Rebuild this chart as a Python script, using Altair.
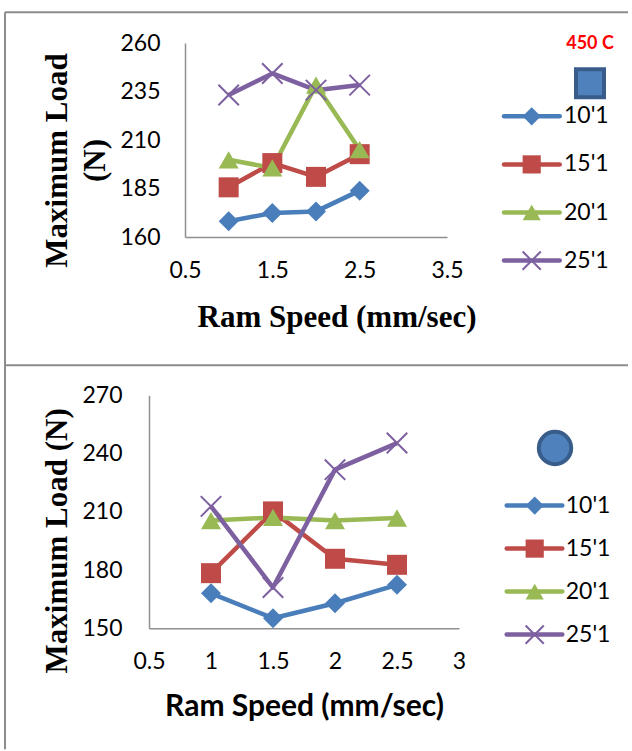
import altair as alt
import pandas as pd

# ---------------- data ----------------
series = ["10'1", "15'1", "20'1", "25'1"]
speeds = [1.0, 1.5, 2.0, 2.5]

top_10 = [168.1, 172.4, 173.2, 183.9]
top_15 = [185.6, 198.1, 191.0, 202.7]
top_20 = [199.8, 195.6, 238.3, 205.0]
top_25 = [233.2, 244.3, 235.7, 238.3]

bot_10 = [168.0, 155.2, 162.9, 172.4]
bot_15 = [178.4, 210.2, 185.8, 182.7]
bot_20 = [205.5, 207.1, 205.5, 206.8]
bot_25 = [212.8, 171.0, 231.7, 245.4]

top_x_ticks = [0.5, 1.5, 2.5, 3.5]
top_y_ticks = [160, 185, 210, 235, 260]
bot_x_ticks = [0.5, 1, 1.5, 2, 2.5, 3]
bot_y_ticks = [150, 180, 210, 240, 270]

top_note = "450 C"

# ---------------- styles ----------------
colors = ["#4a7ebb", "#be4b48", "#98b954", "#7d60a0"]
XPATH = "M-1,-1L1,1M-1,1L1,-1"
AXIS_COLOR = "#8f8f8f"
LABEL_FONT = "Lato"
SERIF = "Liberation Serif"


def long_df(vals):
    rows = []
    for s, v in zip(series, vals):
        for x, y in zip(speeds, v):
            rows.append({"series": s, "speed": x, "load": y})
    return pd.DataFrame(rows)


legend_df = pd.DataFrame({"series": series})
one = pd.DataFrame({"k": [0]})

color = alt.Color("series:N", scale=alt.Scale(domain=series, range=colors), legend=None)
shape = alt.Shape("series:N",
                  scale=alt.Scale(domain=series[:3], range=["diamond", "square", "triangle-up"]),
                  legend=None)
filled_pred = alt.FieldOneOfPredicate(field="series", oneOf=series[:3])
cross_pred = alt.FieldEqualPredicate(field="series", equal=series[3])


def panel(df, W, H, x_off, xdom, xvals, ydom, yvals,
          ytitle, ytitle_x, ytitle_y, ylabpad,
          xtitle_font, xtitle_size, xtitle_x, xtitle_y,
          leg_x0, leg_x1, leg_mx, leg_tx, leg_y0, leg_y1,
          badge_shape, badge_x, badge_y, badge_size, extras):
    x = alt.X("speed:Q", scale=alt.Scale(domain=xdom, nice=False, zero=False, range=[x_off, W]),
              axis=alt.Axis(values=xvals, labelExpr="datum.value + ''", title="Ram Speed (mm/sec)",
                            titleFont=xtitle_font, titleFontSize=xtitle_size,
                            titleFontWeight="bold", titleColor="black",
                            titleX=xtitle_x, titleY=xtitle_y, titleAlign="center",
                            titleBaseline="middle",
                            domain=True, domainColor=AXIS_COLOR, domainWidth=1.5,
                            ticks=False, tickSize=0, grid=False,
                            labelFont=LABEL_FONT, labelFontSize=23, labelColor="black",
                            labelPadding=22, labelFlush=False, labelOverlap=False))
    yscale = alt.Scale(domain=ydom, nice=False, zero=False)
    y = alt.Y("load:Q", scale=yscale,
              axis=alt.Axis(values=yvals, format="d", title=ytitle,
                            titleFont=SERIF, titleFontSize=31, titleFontWeight="bold",
                            titleColor="black", titleLineHeight=38,
                            titleX=ytitle_x, titleY=ytitle_y, titleAlign="center",
                            titleBaseline="middle", titleAngle=270,
                            offset=-x_off,
                            domain=True, domainColor=AXIS_COLOR, domainWidth=1.5,
                            ticks=False, tickSize=0, grid=False,
                            labelFont=LABEL_FONT, labelFontSize=23, labelColor="black",
                            labelPadding=ylabpad, labelFlush=False, labelOverlap=False))
    y_na = alt.Y("load:Q", scale=yscale, axis=None)

    base = alt.Chart(df)
    lines = base.mark_line(strokeWidth=4.5, strokeJoin="round").encode(
        x=x, y=y, color=color, detail="series:N")
    pts = base.transform_filter(filled_pred).mark_point(
        filled=True, size=400, opacity=1).encode(x=x, y=y_na, color=color, shape=shape)
    crs = base.transform_filter(cross_pred).mark_point(
        shape=XPATH, filled=False, size=420, strokeWidth=2, opacity=1).encode(
        x=x, y=y_na, color=color)

    ly = alt.Y("series:N", scale=alt.Scale(type="point", domain=series,
                                           range=[leg_y0, leg_y1], padding=0),
               axis=None)
    lchart = alt.Chart(legend_df)
    l_lines = lchart.mark_rule(strokeWidth=4.5, strokeCap="round").encode(
        x=alt.value(leg_x0), x2=alt.value(leg_x1), y=ly, color=color)
    l_pts = lchart.transform_filter(filled_pred).mark_point(
        filled=True, size=330, opacity=1).encode(x=alt.value(leg_mx), y=ly, color=color, shape=shape)
    l_crs = lchart.transform_filter(cross_pred).mark_point(
        shape=XPATH, filled=False, size=330, strokeWidth=2, opacity=1).encode(
        x=alt.value(leg_mx), y=ly, color=color)
    l_txt = lchart.mark_text(align="left", baseline="middle", font=LABEL_FONT,
                             fontSize=23, color="black").encode(
        x=alt.value(leg_tx), y=ly, text="series:N")

    badge = alt.Chart(one).mark_point(shape=badge_shape, size=badge_size, fill="#4f81bd",
                                      stroke="#385d8a", strokeWidth=4, opacity=1,
                                      fillOpacity=1).encode(
        x=alt.value(badge_x), y=alt.value(badge_y))

    layers = [lines, pts, crs, l_lines, l_pts, l_crs, l_txt, badge] + extras
    return alt.layer(*layers).resolve_scale(y="independent").properties(width=W, height=H)


# top panel: view origin at (150, 41.7) in the page, plot area starts 36 px further right
border_col = "#8c8c8c"
top_extras = [
    alt.Chart(one).mark_text(text=top_note, font=LABEL_FONT, fontSize=18, fontWeight="bold",
                             color="#ff0000", align="center", baseline="middle").encode(
        x=alt.value(441), y=alt.value(1)),
    alt.Chart(one).mark_rule(color=border_col, strokeWidth=2).encode(
        x=alt.value(-144), y=alt.value(-30.7), y2=alt.value(706.3)),
    alt.Chart(one).mark_rule(color=border_col, strokeWidth=2).encode(
        x=alt.value(-144), x2=alt.value(479), y=alt.value(-30.7)),
    alt.Chart(one).mark_rule(color=border_col, strokeWidth=2).encode(
        x=alt.value(-144), x2=alt.value(479), y=alt.value(322.3)),
]

top = panel(long_df([top_10, top_15, top_20, top_25]), 298, 194, 36,
            [0.5, 3.5], top_x_ticks, [160, 260], top_y_ticks,
            ["Maximum Load", "(N)"], -127.5, 117, 25,
            SERIF, 31, 187.5, 80,
            355, 410.7, 382.7, 415, 73.3, 217.6,
            "square", 441, 40.3, 784, top_extras)

bottom = panel(long_df([bot_10, bot_15, bot_20, bot_25]), 310, 233, 0,
               [0.5, 3], bot_x_ticks, [150, 270], bot_y_ticks,
               "Maximum Load (N)", -91.5, 145, 27,
               LABEL_FONT, 30, 155, 78,
               357.7, 413.3, 385.7, 416.7, 110.3, 239.3,
               "circle", 406, 52.7, 1050, [])

chart = alt.vconcat(top, bottom, spacing=158.3, bounds="flush").properties(
    padding={"left": 4, "top": 11, "right": 0, "bottom": 0},
    background="white",
).configure_view(stroke=None)

chart.save("out.html", embed_options={"renderer": "svg", "actions": False})
